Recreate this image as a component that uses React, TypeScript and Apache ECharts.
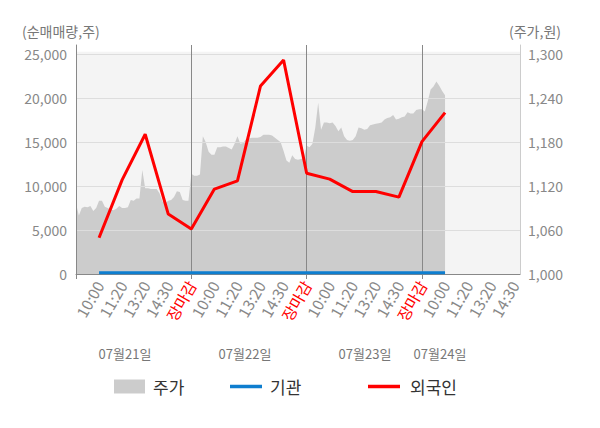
import React, { useEffect, useRef } from "react";
import * as echarts from "echarts";

// ---- data ----
const tickLabels = [
  "10:00", "11:20", "13:20", "14:30", "장마감",
  "10:00", "11:20", "13:20", "14:30", "장마감",
  "10:00", "11:20", "13:20", "14:30", "장마감",
  "10:00", "11:20", "13:20", "14:30",
];
const dateLabels = ["07월21일", "07월22일", "07월23일", "07월24일"];
const pointsPerTick = 8;
const totalPoints = 155;
const currentTickIndex = 128;

// 주가 (원), one value per sample from the first day's open
const priceValues = [
  1096, 1080, 1090, 1092, 1091, 1093, 1086, 1090,
  1100, 1100, 1092, 1090, 1088, 1087, 1089, 1093,
  1090, 1090, 1091, 1101, 1100, 1103, 1103, 1142,
  1117, 1117, 1116, 1116, 1116, 1110, 1099, 1097,
  1100, 1101, 1105, 1113, 1112, 1101, 1100, 1100,
  1137, 1134, 1134, 1136, 1188, 1180, 1167, 1163,
  1163, 1173, 1173, 1174, 1174, 1172, 1170, 1178,
  1188, 1178, 1179, 1184, 1185, 1186, 1186, 1186,
  1187, 1190, 1190, 1190, 1189, 1186, 1183, 1180,
  1168, 1155, 1152, 1162, 1157, 1156, 1157, 1158,
  1175, 1173, 1178, 1200, 1234, 1197, 1207, 1207,
  1206, 1207, 1202, 1195, 1200, 1188, 1183, 1182,
  1183, 1188, 1200, 1199, 1197, 1198, 1203, 1204,
  1205, 1206, 1207, 1211, 1213, 1214, 1217, 1211,
  1212, 1214, 1215, 1221, 1219, 1219, 1224, 1225,
  1225, 1222, 1236, 1252, 1256, 1263, 1257, 1250,
  1244,
];
// 순매매량 (주), one value per labelled tick
const foreignValues = [
  4120, 10710, 15900, 6820, 5110,
  9660, 10600, 21400, 24340, 11470,
  10790, 9380, 9380, 8750, 15060,
  18360,
];
const institutionValues = [
  150, 150, 150, 150, 150,
  150, 150, 150, 150, 150,
  150, 150, 150, 150, 150,
  150,
];

const FONT = "Noto Sans CJK KR";

export default function App() {
  const ref = useRef<HTMLDivElement>(null);

  useEffect(() => {
    document.body.style.margin = "0";
    if (!ref.current) return;
    const chart = echarts.init(ref.current, null, { renderer: "svg" });

    const categories: string[] = [];
    for (let i = 0; i < totalPoints; i++) {
      const t = i / pointsPerTick;
      categories.push(i > 0 && i % pointsPerTick === 0 && t <= tickLabels.length ? tickLabels[t - 1] : "");
    }
    const toTickSeries = (vals: number[]) => {
      const arr: (number | null)[] = new Array(totalPoints).fill(null);
      vals.forEach((v, k) => {
        arr[(k + 1) * pointsPerTick] = v;
      });
      return arr;
    };

    const gridLeft = 76;
    const gridRight = 80;
    const gridTop = 45;
    const gridBottom = 154;

    const legendText = { fontSize: 17, color: "#333", fontFamily: FONT, padding: [0, 0, 0, 3] };

    const option: any = {
      animation: false,
      textStyle: { fontFamily: FONT },
      grid: { left: gridLeft, right: gridRight, top: gridTop, bottom: gridBottom },
      graphic: [
        {
          type: "rect",
          z: -10,
          shape: { x: gridLeft, y: 51.7, width: 600 - gridLeft - gridRight, height: 428 - gridBottom - 51.7 },
          style: { fill: "#f4f4f4" },
        },
        {
          type: "text",
          left: 22,
          top: 24,
          style: { text: "(순매매량,주)", fill: "#777", font: `14px "${FONT}"` },
        },
        {
          type: "text",
          left: 509,
          top: 24,
          style: { text: "(주가,원)", fill: "#777", font: `14px "${FONT}"` },
        },
        ...dateLabels.map((d, i) => ({
          type: "text",
          x: [125, 245, 365, 440][i],
          y: 353,
          style: {
            text: d,
            fill: "#777",
            font: `13px "${FONT}"`,
            align: "center",
            verticalAlign: "middle",
          },
        })),
      ],
      legend: [
        {
          data: [{ name: "주가", icon: "rect", itemStyle: { color: "#cccccc" } }],
          left: 109,
          top: 373,
          itemWidth: 31,
          itemHeight: 14,
          textStyle: legendText,
        },
        {
          data: [{ name: "기관", icon: "rect", itemStyle: { color: "#0e7ecf" } }],
          left: 225,
          top: 373,
          itemWidth: 32,
          itemHeight: 3.5,
          textStyle: legendText,
        },
        {
          data: [{ name: "외국인", icon: "rect", itemStyle: { color: "#ff0000" } }],
          left: 363,
          top: 373,
          itemWidth: 32,
          itemHeight: 3.5,
          textStyle: { ...legendText, padding: [0, 0, 0, 5] },
        },
      ],
      xAxis: {
        type: "category",
        data: categories,
        boundaryGap: false,
        axisLine: { show: true, lineStyle: { color: "#888", width: 1 } },
        axisTick: {
          show: true,
          interval: (index: number) => index % (pointsPerTick * 5) === 0,
          length: 5,
          lineStyle: { color: "#888" },
        },
        splitLine: {
          show: true,
          interval: (index: number) => index > 0 && index % (pointsPerTick * 5) === 0 && index < totalPoints - 1,
          lineStyle: { color: "#888", width: 1 },
        },
        axisLabel: {
          interval: (index: number) => index > 0 && index % pointsPerTick === 0,
          rotate: 60,
          margin: 8,
          fontSize: 15.5,
          fontFamily: FONT,
          color: (value: string, index: number) =>
            value === "장마감" ? "#ff0000" : index === currentTickIndex ? "#333333" : "#888888",
        },
      },
      yAxis: [
        {
          type: "value",
          min: 0,
          max: 26057,
          interval: 5000,
          axisLine: { show: true, lineStyle: { color: "#888" } },
          axisTick: { show: false },
          axisLabel: {
            showMaxLabel: false,
            fontSize: 14,
            color: "#888",
            margin: 9,
            fontFamily: FONT,
            formatter: (v: number) => v.toLocaleString("en-US"),
          },
          splitLine: {
            show: true,
            lineStyle: {
              color: ["#dddddd", "#dddddd", "#dddddd", "#dddddd", "#dddddd", "#dddddd", "rgba(0,0,0,0)"],
            },
          },
        },
        {
          type: "value",
          min: 1000,
          max: 1312.7,
          interval: 60,
          position: "right",
          axisLine: { show: true, lineStyle: { color: "#cccccc" } },
          axisTick: { show: false },
          axisLabel: {
            showMaxLabel: false,
            fontSize: 14,
            color: "#888",
            margin: 8,
            fontFamily: FONT,
            formatter: (v: number) => v.toLocaleString("en-US"),
          },
          splitLine: { show: false },
        },
      ],
      series: [
        {
          name: "주가",
          type: "line",
          yAxisIndex: 1,
          z: -1,
          data: priceValues,
          symbol: "none",
          lineStyle: { width: 0, color: "#cccccc" },
          itemStyle: { color: "#cccccc" },
          areaStyle: { color: "#cccccc", opacity: 1 },
        },
        {
          name: "기관",
          type: "line",
          yAxisIndex: 0,
          data: toTickSeries(institutionValues),
          connectNulls: true,
          symbol: "none",
          lineStyle: { width: 3, color: "#0e7ecf" },
          itemStyle: { color: "#0e7ecf" },
        },
        {
          name: "외국인",
          type: "line",
          yAxisIndex: 0,
          data: toTickSeries(foreignValues),
          connectNulls: true,
          symbol: "none",
          lineStyle: { width: 3, color: "#ff0000" },
          itemStyle: { color: "#ff0000" },
        },
      ],
    };

    chart.setOption(option);
    return () => {
      chart.dispose();
    };
  }, []);

  return <div ref={ref} style={{ width: 600, height: 428 }} />;
}
